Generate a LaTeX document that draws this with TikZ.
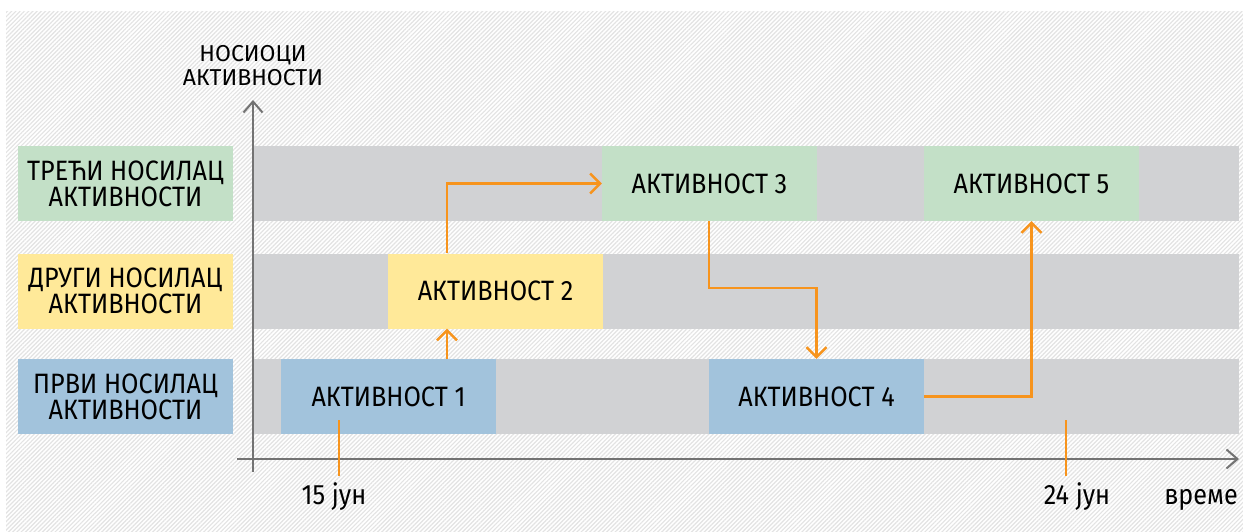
\documentclass[tikz,border=0pt]{standalone}
\usepackage{fontspec}
\setmainfont{Fira Sans}
\newfontfamily\narrowfont[FakeStretch=0.9]{Fira Sans}
\usetikzlibrary{arrows.meta,patterns.meta,calc}
\definecolor{lanegray}{HTML}{D1D2D4}
\definecolor{boxgreen}{HTML}{C3E0C7}
\definecolor{boxyellow}{HTML}{FFE999}
\definecolor{boxblue}{HTML}{A2C3DC}
\definecolor{linkorange}{HTML}{F7941D}
\definecolor{axisgray}{HTML}{737373}
\begin{document}
\begin{tikzpicture}[x=1pt,y=-1pt,
        lane/.style={fill=lanegray, inner sep=0pt, minimum width=985pt, minimum height=75pt},
        act/.style={inner sep=0pt, minimum width=215pt, minimum height=75pt,
                    font=\narrowfont\fontsize{28}{26}\selectfont},
        owner/.style={act, align=center},
        link/.style={draw=linkorange, line width=2.4pt, -{Straight Barb[length=10pt,width=20pt,line width=2.4pt]}},
        axis/.style={draw=axisgray, line width=2pt, -{Straight Barb[length=11pt,width=19pt,line width=2pt]}},
        tick/.style={draw=linkorange, line width=2.4pt},
        lbl/.style={inner sep=0pt, font=\narrowfont\fontsize{28}{26}\selectfont}]
    \useasboundingbox (0,0) rectangle (1243,532);
    \fill[white] (0,0) rectangle (1243,532);
    \fill[pattern={Lines[angle=45,distance=3pt,line width=1.2pt]}, pattern color=black!11] (6,12) rectangle (1243,532);
    % rows
    \path   (746.5,183.5) node (lane3) [lane] {}
            (746.5,291)   node (lane2) [lane] {}
            (746.5,396.5) node (lane1) [lane] {};
    \path   (125.5,183.5) node (own3) [owner, fill=boxgreen]  {ТРЕЋИ НОСИЛАЦ\\АКТИВНОСТИ}
            (125.5,291)   node (own2) [owner, fill=boxyellow] {ДРУГИ НОСИЛАЦ\\АКТИВНОСТИ}
            (125.5,396.5) node (own1) [owner, fill=boxblue]   {ПРВИ НОСИЛАЦ\\АКТИВНОСТИ};
    % activities
    \path   (388.5,396.5)  node (a1) [act, fill=boxblue]   {АКТИВНОСТ 1}
            (495.5,291)    node (a2) [act, fill=boxyellow] {АКТИВНОСТ 2}
            (709.5,183.5)  node (a3) [act, fill=boxgreen]  {АКТИВНОСТ 3}
            (816.5,396.5)  node (a4) [act, fill=boxblue]   {АКТИВНОСТ 4}
            (1031.5,183.5) node (a5) [act, fill=boxgreen]  {АКТИВНОСТ 5};
    % axes
    \coordinate (origin) at (253,459);
    \draw[axis] (253,472) -- (253,100) coordinate (ytop);
    \draw[axis] (237,459) -- (1239,459) coordinate (xend);
    \node (ytitle) [inner sep=0pt, align=center, font=\fontsize{23}{24}\selectfont, anchor=south] at ($(ytop)+(0,-14)$) {НОСИОЦИ\\АКТИВНОСТИ};
    % dates
    \draw[tick] (339,420) -- (339,476) coordinate (d1);
    \draw[tick] (1066,420) -- (1066,476) coordinate (d2);
    \node (date1) [lbl, anchor=base] at (334,504) {15 јун};
    \node (date2) [lbl, anchor=base] at (1077,504) {24 јун};
    \node (time)  [lbl, anchor=base east] at (1238,504) {време};
    % links
    \coordinate (up) at (447,0);
    \draw[link] (a1.north -| up) -- (a2.south -| up);
    \draw[link] (a2.north -| up) |- (a3.west);
    \draw[link] (a3.south -| a4.west) -- ++(0,67) -| (a4.north);
    \draw[link] (a4.east) -| (a5.south);
\end{tikzpicture}
\end{document}
